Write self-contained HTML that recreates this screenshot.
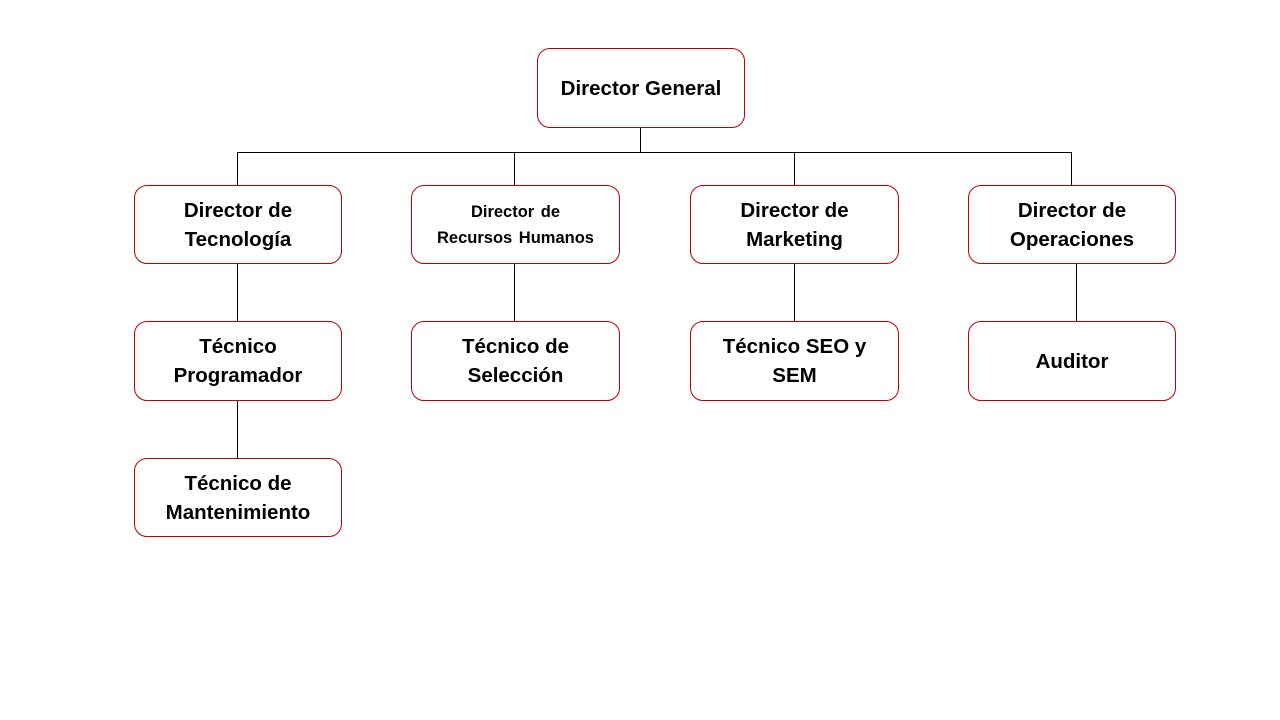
<!DOCTYPE html>
<html><head><meta charset="utf-8"><style>
body{margin:0;width:1280px;height:720px;background:#fff;position:relative;font-family:"Liberation Sans",sans-serif;overflow:hidden}
.b{position:absolute;box-sizing:border-box;border:1px solid #c00000;border-radius:13px;background:#fff;display:flex;align-items:center;justify-content:center;text-align:center;font-weight:bold;font-size:20.5px;line-height:29px;color:#000}
.l{position:absolute;background:#000}
</style></head><body>
<div class="l" style="left:640px;top:127px;width:1px;height:26px"></div>
<div class="l" style="left:237px;top:152px;width:835px;height:1px"></div>
<div class="l" style="left:237px;top:152px;width:1px;height:33px"></div>
<div class="l" style="left:514px;top:152px;width:1px;height:33px"></div>
<div class="l" style="left:794px;top:152px;width:1px;height:33px"></div>
<div class="l" style="left:1071px;top:152px;width:1px;height:33px"></div>
<div class="l" style="left:237px;top:263px;width:1px;height:58px"></div>
<div class="l" style="left:514px;top:263px;width:1px;height:58px"></div>
<div class="l" style="left:794px;top:263px;width:1px;height:58px"></div>
<div class="l" style="left:1076px;top:263px;width:1px;height:58px"></div>
<div class="l" style="left:237px;top:400px;width:1px;height:58px"></div>

<div class="b" style="left:537px;top:48px;width:208px;height:80px">Director General</div>
<div class="b" style="left:134px;top:185px;width:208px;height:79px">Director de<br>Tecnología</div>
<div class="b" style="left:411px;top:185px;width:209px;height:79px;font-size:16.5px;line-height:26px;word-spacing:2px">Director de<br>Recursos Humanos</div>
<div class="b" style="left:690px;top:185px;width:209px;height:79px">Director de<br>Marketing</div>
<div class="b" style="left:968px;top:185px;width:208px;height:79px">Director de<br>Operaciones</div>
<div class="b" style="left:134px;top:321px;width:208px;height:80px">Técnico<br>Programador</div>
<div class="b" style="left:411px;top:321px;width:209px;height:80px">Técnico de<br>Selección</div>
<div class="b" style="left:690px;top:321px;width:209px;height:80px">Técnico SEO y<br>SEM</div>
<div class="b" style="left:968px;top:321px;width:208px;height:80px">Auditor</div>
<div class="b" style="left:134px;top:458px;width:208px;height:79px">Técnico de<br>Mantenimiento</div>
</body></html>
